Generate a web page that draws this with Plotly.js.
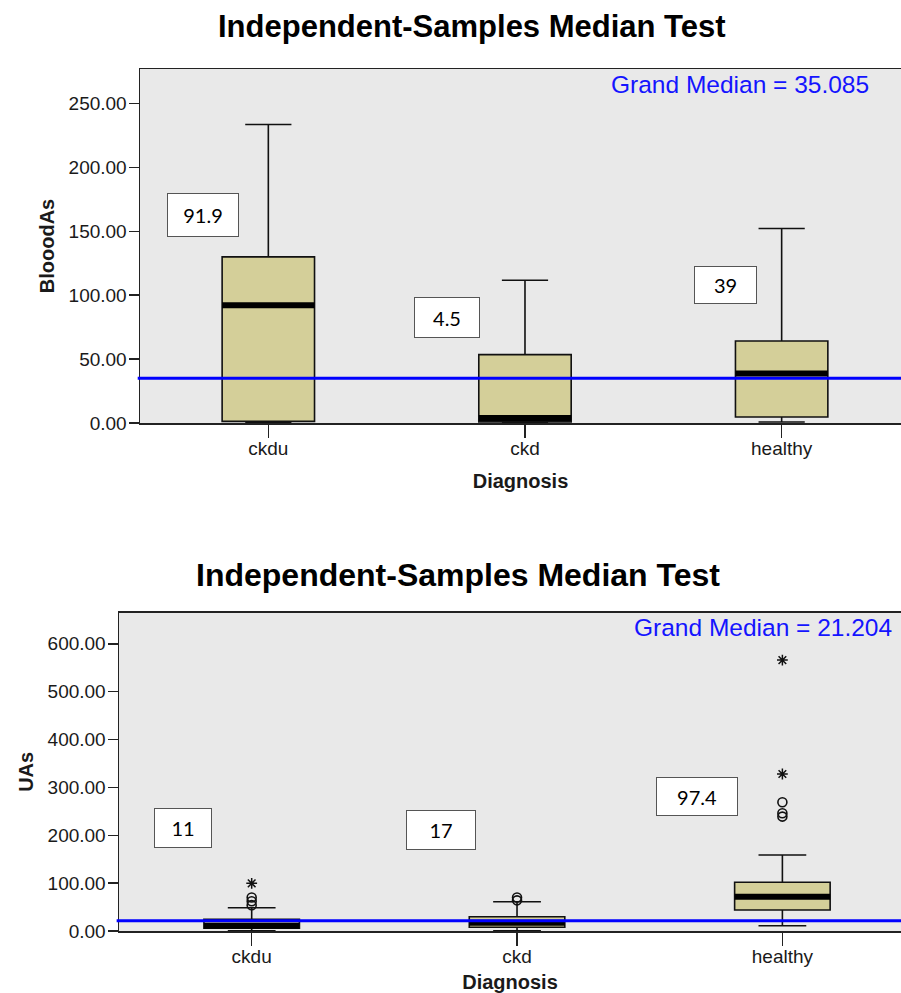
<!DOCTYPE html>
<html>
<head>
<meta charset="utf-8">
<script src="https://cdn.plot.ly/plotly-3.0.1.min.js"></script>
<style>html,body{margin:0;padding:0;background:#fff;}#chart{width:901px;height:993px;}</style>
</head>
<body>
<div id="chart"></div>
<script>
// ---------- data ----------
const categories = ['ckdu', 'ckd', 'healthy'];
const categoryIndex = [0, 1, 2];

// Blood arsenic (BlooodAs)
const bloodLower  = [0.5, 0.3, 0.8];
const bloodQ1     = [1.3, 0.9, 4.7];
const bloodMedian = [92.1, 3.9, 38.7];
const bloodQ3     = [130.0, 53.5, 64.2];
const bloodUpper  = [233.6, 111.7, 152.2];
const bloodMedianLabels = ['91.9', '4.5', '39'];
const bloodGrandMedian = 35.085;
const bloodTicks = [0, 50, 100, 150, 200, 250];

// Urine arsenic (UAs)
const uasLower  = [0.5, 0.5, 11.0];
const uasQ1     = [5.6, 7.7, 43.8];
const uasMedian = [11.0, 17.0, 71.6];
const uasQ3     = [24.5, 29.9, 101.7];
const uasUpper  = [48.7, 61.2, 158.7];
const uasOutlierCat = [0, 0, 0, 1, 1, 2, 2, 2];
const uasOutlierVal = [54, 62, 70, 64, 70, 239, 246, 269];
const uasExtremeCat = [0, 2, 2];
const uasExtremeVal = [99.6, 328, 566];
const uasMedianLabels = ['11', '17', '97.4'];
const uasGrandMedian = 21.204;
const uasTicks = [0, 100, 200, 300, 400, 500, 600];

// ---------- styling ----------
const FONT = 'Liberation Sans, Arial, sans-serif';
const BOXFILL = 'rgb(212,207,153)';
const BOXW = 0.36;

function boxTrace(q1, med, q3, lo, hi, xa, ya) {
  return {
    type: 'box', x: categoryIndex, q1: q1, median: med, q3: q3,
    lowerfence: lo, upperfence: hi, width: BOXW, whiskerwidth: 0.5,
    fillcolor: BOXFILL, line: {color: '#111', width: 1.6},
    boxpoints: false, hoverinfo: 'skip', xaxis: xa, yaxis: ya
  };
}
function medianTrace(med, xa, ya) {
  const xs = [], ys = [];
  med.forEach((m, i) => { xs.push(i - BOXW / 2, i + BOXW / 2, null); ys.push(m, m, null); });
  return {type: 'scatter', mode: 'lines', x: xs, y: ys, line: {color: '#000', width: 6},
          hoverinfo: 'skip', xaxis: xa, yaxis: ya};
}

const traces = [
  boxTrace(bloodQ1, bloodMedian, bloodQ3, bloodLower, bloodUpper, 'x', 'y'),
  medianTrace(bloodMedian, 'x', 'y'),
  boxTrace(uasQ1, uasMedian, uasQ3, uasLower, uasUpper, 'x2', 'y2'),
  medianTrace(uasMedian, 'x2', 'y2'),
  {type: 'scatter', mode: 'markers', x: uasOutlierCat, y: uasOutlierVal, xaxis: 'x2', yaxis: 'y2',
   marker: {symbol: 'circle-open', size: 9, color: '#111', line: {width: 1.6, color: '#111'}}, hoverinfo: 'skip'},
  {type: 'scatter', mode: 'markers', x: uasExtremeCat, y: uasExtremeVal, xaxis: 'x2', yaxis: 'y2',
   marker: {symbol: 'asterisk-open', size: 9, color: '#111', line: {width: 1.5, color: '#111'}}, hoverinfo: 'skip'}
];

function xAxis(domain, range, anchor, standoff) {
  return {
    domain: domain, range: range, anchor: anchor,
    tickmode: 'array', tickvals: categoryIndex, ticktext: categories,
    ticks: 'outside', ticklen: 13, tickwidth: 1.5, tickcolor: '#222',
    ticklabelstandoff: -5,
    showline: true, linecolor: '#222', linewidth: 1.5, mirror: true,
    showgrid: false, zeroline: false,
    tickfont: {family: FONT, size: 19, color: '#1a1a1a'},
    title: {text: 'Diagnosis', font: {family: FONT, size: 20, weight: 'bold', color: '#1a1a1a'}, standoff: standoff}
  };
}
function yAxis(domain, range, ticks, title, anchor) {
  return {
    domain: domain, range: range, anchor: anchor,
    tickmode: 'array', tickvals: ticks, tickformat: '.2f',
    ticks: 'outside', ticklen: 10, tickwidth: 1.5, tickcolor: '#222',
    ticklabelstandoff: -2,
    showline: true, linecolor: '#222', linewidth: 1.5, mirror: false,
    showgrid: false, zeroline: false,
    tickfont: {family: FONT, size: 19, color: '#1a1a1a'},
    title: {text: title, font: {family: FONT, size: 20, weight: 'bold', color: '#1a1a1a'}, standoff: 8}
  };
}

function labelBox(text, x, y, w, h, xr, yr) {
  return {text: text, x: x, y: y, xref: xr, yref: yr, xanchor: 'center', yanchor: 'middle',
          showarrow: false, width: w, height: h, align: 'center', valign: 'middle',
          bgcolor: '#ffffff', bordercolor: '#555', borderwidth: 1, borderpad: 0,
          font: {family: 'Lato, Noto Sans, sans-serif', size: 20, color: '#000'}};
}

const H = 993, W = 901;
const layout = {
  width: W, height: H,
  margin: {l: 0, r: 0, t: 0, b: 0},
  paper_bgcolor: '#ffffff', plot_bgcolor: '#e9e9e9',
  showlegend: false,
  font: {family: FONT, size: 20, color: '#1a1a1a'},
  xaxis: xAxis([140 / W, 1], [-0.5, 2.465], 'y', 15),
  yaxis: yAxis([1 - 423 / H, 1 - 69 / H], [0, 277], bloodTicks, 'BlooodAs', 'x'),
  xaxis2: xAxis([119 / W, 1], [-0.5, 2.447], 'y2', 11),
  yaxis2: yAxis([1 - 931 / H, 1 - 612.7 / H], [0, 665], uasTicks, 'UAs', 'x2'),
  shapes: [
    {type: 'line', xref: 'x domain', yref: 'y', x0: -0.003, x1: 1, y0: bloodGrandMedian, y1: bloodGrandMedian,
     line: {color: '#0000ff', width: 3}, layer: 'above'},
    {type: 'line', xref: 'x2 domain', yref: 'y2', x0: -0.003, x1: 1, y0: uasGrandMedian, y1: uasGrandMedian,
     line: {color: '#0000ff', width: 3}, layer: 'above'}
  ],
  annotations: [
    {text: 'Independent-Samples Median Test', xref: 'paper', yref: 'paper', x: 472.5 / W, y: 1 - 27 / H,
     xanchor: 'center', yanchor: 'middle', showarrow: false,
     font: {family: FONT, size: 31, weight: 'bold', color: '#000'}},
    {text: 'Independent-Samples Median Test', xref: 'paper', yref: 'paper', x: 458 / W, y: 1 - 575 / H,
     xanchor: 'center', yanchor: 'middle', showarrow: false,
     font: {family: FONT, size: 32, weight: 'bold', color: '#000'}},
    {text: 'Grand Median = ' + bloodGrandMedian.toFixed(3), xref: 'paper', yref: 'paper', x: 609 / W, y: 1 - 85 / H,
     xanchor: 'left', yanchor: 'middle', showarrow: false,
     font: {family: FONT, size: 24.5, color: '#1414ff'}},
    {text: 'Grand Median = ' + uasGrandMedian.toFixed(3), xref: 'paper', yref: 'paper', x: 632 / W, y: 1 - 627 / H,
     xanchor: 'left', yanchor: 'middle', showarrow: false,
     font: {family: FONT, size: 24.5, color: '#1414ff'}},
    labelBox(bloodMedianLabels[0], -0.254, 162.6, 70, 42, 'x', 'y'),
    labelBox(bloodMedianLabels[1], 0.697, 82.5, 64, 39, 'x', 'y'),
    labelBox(bloodMedianLabels[2], 1.781, 108, 61, 36, 'x', 'y'),
    labelBox(uasMedianLabels[0], -0.257, 216, 56, 38, 'x2', 'y2'),
    labelBox(uasMedianLabels[1], 0.712, 211.5, 68, 38, 'x2', 'y2'),
    labelBox(uasMedianLabels[2], 1.680, 281, 80, 37, 'x2', 'y2')
  ]
};

Plotly.newPlot('chart', traces, layout, {staticPlot: true, displayModeBar: false});
</script>
</body>
</html>
